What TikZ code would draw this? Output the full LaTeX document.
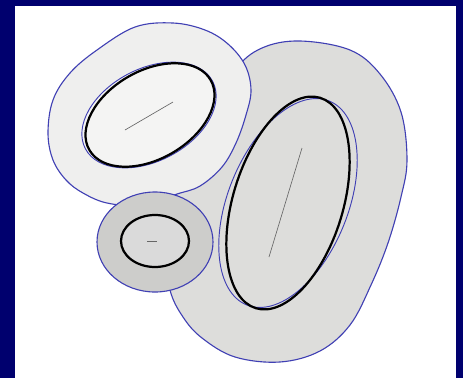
\documentclass[tikz,border=0pt]{standalone}
\usepackage{tikz}
\definecolor{frame}{HTML}{00006E}
\definecolor{rim}{HTML}{4040B4}
\definecolor{bigfill}{HTML}{DDDDDB}
\definecolor{leftfill}{HTML}{EFEFEE}
\definecolor{ringfill}{HTML}{CDCDCB}
\definecolor{dotfill}{HTML}{DADADA}

\begin{document}
\begin{tikzpicture}[x=0.03cm,y=-0.03cm,
    blob/.style={draw=rim,line width=0.95pt},
    shell/.style={draw=rim,line width=0.8pt},
    core/.style={draw=black,line width=1.9pt},
    axisline/.style={draw=black!60,line width=0.55pt}
  ]
    \useasboundingbox (0,0) rectangle (463,378);
    \fill[frame] (0,0) rectangle (463,378);
    \fill[white] (15,6) rectangle (456,378);

    % large cluster on the right
    \path[blob,fill=bigfill] plot[smooth cycle,tension=0.6] coordinates {
      (300,41) (350,50) (380,74) (401,112) (407,160) (401,197) (388,243)
      (371,285) (350,325) (320,351) (280,362) (235,357) (202,338) (183,317)
      (170,290) (166,250) (177,192) (205,120) (235,70) (262,48)};
    \path[shell,fill=bigfill] (288,203) [rotate around={68:(288,203)}] ellipse [x radius=110,y radius=60];
    \path[core] (288,203) [rotate around={73:(288,203)}] ellipse [x radius=110,y radius=55];
    \path[axisline] (302,148) -- (269,257);

    % upper left cluster
    \path[blob,fill=leftfill] plot[smooth cycle,tension=0.6] coordinates {
      (173,23) (205,30) (228,44) (245,65) (251,90) (246,115) (236,143)
      (222,167) (200,186) (177,194) (140,205) (107,203) (83,193) (66,180)
      (53,160) (48,133) (53,100) (70,73) (97,50) (135,27)};
    \path[shell,fill=leftfill!70!white] (149,115) [rotate around={28:(149,115)}] ellipse [x radius=72,y radius=46];
    \path[core] (150,115) [rotate around={30:(150,115)}] ellipse [x radius=70,y radius=44];
    \path[axisline] (125,130) -- (173,102);

    % small cluster
    \path[blob,fill=ringfill] (155,242) ellipse [x radius=58,y radius=50];
    \path[core,fill=dotfill] (155,241) ellipse [x radius=34,y radius=26];
    \path[axisline] (147,241) -- (157,241);
  \end{tikzpicture}
\end{document}
